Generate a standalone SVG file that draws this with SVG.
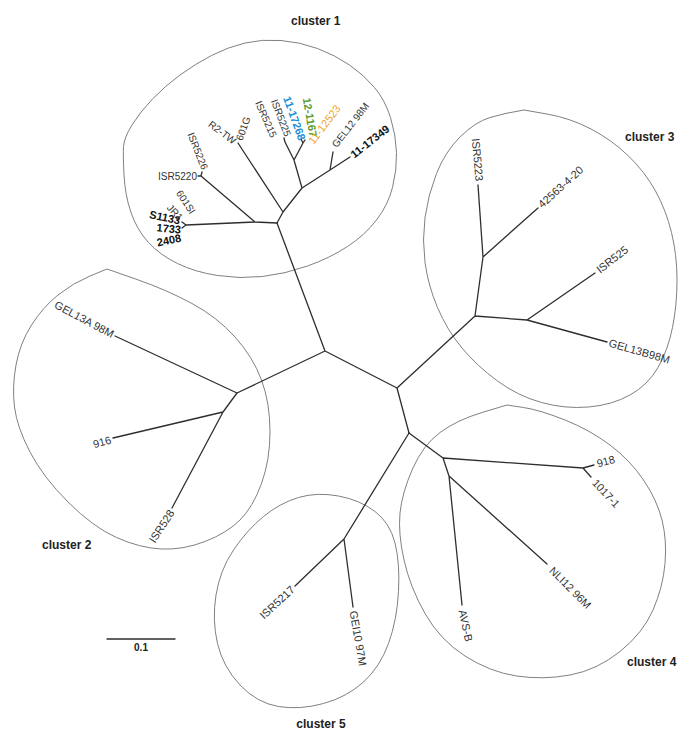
<svg xmlns="http://www.w3.org/2000/svg" width="679" height="732" viewBox="0 0 679 732">
<style>
.hull{fill:none;stroke:#808080;stroke-width:1}
.br{fill:none;stroke:#2e2e2e;stroke-width:1.3;stroke-linecap:round;stroke-linejoin:round}
text{font-family:"Liberation Sans",Arial,sans-serif;fill:#333}
.lf{font-size:11px}
.ls{font-size:10px}
.bd{font-size:11px;font-weight:bold;fill:#111}
.cl{font-size:12px;font-weight:bold;fill:#222}
</style>
<rect width="679" height="732" fill="#fff"/>
<g id="hulls">
<path class="hull" d="M124,175 Q123,155 123.5,146.5 Q124,138 132,125 Q140,112 152.5,99 Q165,86 180,75 Q195,64 211.5,55.5 Q228,47 245,43 Q262,39 281,40.5 Q300,42 317.5,48.5 Q335,55 349.5,65 Q364,75 374.5,87.5 Q385,100 390.5,117.5 Q396,135 396.5,152.5 Q397,170 392.5,187.5 Q388,205 376.5,220 Q365,235 347.5,246.5 Q330,258 307.5,266 Q285,274 262.5,276.5 Q240,279 217.5,275.5 Q195,272 177.5,263.5 Q160,255 148.5,242.5 Q137,230 131,212.5 Q125,195 124,175 Z"/>
<path class="hull" d="M107,269 L137,279.5 Q167,290 192,303.5 Q217,317 235,337 Q253,357 261.5,380 Q270,403 270,431.5 Q270,460 261.5,483.5 Q253,507 240,520 Q227,533 205,541.5 Q183,550 161.5,549 Q140,548 116.5,537.5 Q93,527 68,502 Q43,477 30,452 Q17,427 14.5,407 Q12,387 16,365 Q20,343 31.5,325 Q43,307 58,295 Q73,283 90,276 L107,269 Z"/>
<path class="hull" d="M524,110 L547,114 Q570,118 591,129 Q612,140 628.5,156 Q645,172 655.5,191 Q666,210 671.5,232.5 Q677,255 677,280 Q677,305 672.5,327.5 Q668,350 658,367.5 Q648,385 630,395 Q612,405 588.5,407 Q565,409 541.5,402.5 Q518,396 497.5,381 Q477,366 462,348 Q447,330 437.5,307.5 Q428,285 425,262.5 Q422,240 425,217.5 Q428,195 436.5,173.5 Q445,152 460,137 Q475,122 490,117.5 Q505,113 524,110 Z"/>
<path class="hull" d="M298.5,497.5 Q317,492 338.5,496 Q360,500 375,511.5 Q390,523 395,543 Q400,563 398.5,591.5 Q397,620 388.5,643.5 Q380,667 363.5,682 Q347,697 323.5,703.5 Q300,710 278.5,706.5 Q257,703 240,685 Q223,667 217.5,643.5 Q212,620 216,595 Q220,570 233.5,550 Q247,530 263.5,516.5 Q280,503 298.5,497.5 Z"/>
<path class="hull" d="M507,405 L523.5,407.5 Q540,410 565,420 Q590,430 610,445 Q630,460 643.5,480 Q657,500 662,520 Q667,540 665,563.5 Q663,587 653,610 Q643,633 620,651.5 Q597,670 570,675 Q543,680 516.5,676 Q490,672 465,656 Q440,640 425,613.5 Q410,587 404,560 Q398,533 400,513 Q402,493 412.5,469 Q423,445 440,432.5 Q457,420 482,412.5 L507,405 Z"/>
</g>
<g id="connectors">
<path class="br" d="M325,351 L397,388 L409,433 M325,351 L277,223 M325,351 L237,393"/>
<path class="br" d="M277,223 L255,222 L186,225 M182,222 L186,225 L182,228 M255,222 L201,176 M198,176 L201,176 L202,172"/>
<path class="br" d="M277,223 L283,212 L238,143 M283,212 L302,188 L294,160 L285,142 M284,138 L285,142 M294,160 L303,143 M301,139 L303,143 L305,140 M302,188 L330,170 L333,152 M330,170 L350,157"/>
<path class="br" d="M397,388 L475,316 L483,257 L478,185 M483,257 L538,208 M475,316 L527,320 L595,273 M527,320 L607,342"/>
<path class="br" d="M237,393 L115,336 M237,393 L223,412 L113,438 M223,412 L172,508"/>
<path class="br" d="M409,433 L344,539 L295,586 M344,539 L353,607"/>
<path class="br" d="M409,433 L443,458 L583,468 L594,465 M583,468 L591,477 M443,458 L449,476 L462,605 M449,476 L547,564"/>
<path class="br" d="M107,639 L175,639"/>
</g>
<g id="cluster1">
<text class="cl" x="291" y="25">cluster 1</text>
<text class="ls" text-anchor="end" x="197" y="179.5">ISR5220</text>
<text class="ls" text-anchor="end" transform="translate(205,169) rotate(68)" dy="3.5">ISR5226</text>
<text class="ls" text-anchor="end" transform="translate(235,142) rotate(37)" dy="3.5">R2-TW</text>
<text class="ls" transform="translate(239,140) rotate(-70)" dy="3.5">601G</text>
<text class="ls" text-anchor="end" transform="translate(274,137) rotate(66)" dy="3.5">ISR5215</text>
<text class="ls" text-anchor="end" transform="translate(288,136) rotate(69)" dy="3.5">ISR5225</text>
<text class="bd" text-anchor="end" transform="translate(302,140) rotate(70)" dy="3.5" style="fill:#1e8ed6">11-17268</text>
<text class="bd" text-anchor="end" transform="translate(313,137) rotate(80)" dy="3.5" style="fill:#5c9b30">12-1167</text>
<text class="lf" transform="translate(311,143) rotate(-53)" dy="3.5" style="fill:#f4a21d">11-12523</text>
<text class="ls" transform="translate(334,146) rotate(-52)" dy="3.5">GEL12 98M</text>
<text class="bd" transform="translate(352,156) rotate(-38)" dy="3.5">11-17349</text>
<text class="ls" text-anchor="end" transform="translate(193,213) rotate(57)" dy="3.5">601SI</text>
<text class="ls" text-anchor="end" transform="translate(181,219) rotate(47)" dy="3.5">JR1</text>
<text class="bd" text-anchor="end" transform="translate(180,221) rotate(12)" dy="3.5">S1133</text>
<text class="bd" text-anchor="end" transform="translate(181,230) rotate(5)" dy="3.5">1733</text>
<text class="bd" text-anchor="end" transform="translate(181,238) rotate(-12)" dy="3.5">2408</text>
</g>
<g id="cluster3">
<text class="cl" x="625" y="141">cluster 3</text>
<text class="lf" text-anchor="end" transform="translate(479,181) rotate(85)" dy="3.5">ISR5223</text>
<text class="lf" transform="translate(540,206) rotate(-42)" dy="3.5">42563-4-20</text>
<text class="lf" transform="translate(598,271) rotate(-38)" dy="3.5">ISR525</text>
<text class="lf" transform="translate(609,343) rotate(16)" dy="3.5">GEL13B98M</text>
</g>
<g id="cluster2">
<text class="cl" x="42" y="549">cluster 2</text>
<text class="lf" text-anchor="end" transform="translate(113,335) rotate(28)" dy="3.5">GEL13A 98M</text>
<text class="lf" text-anchor="end" transform="translate(111,440) rotate(-15)" dy="3.5">916</text>
<text class="lf" text-anchor="end" transform="translate(172,511) rotate(-57)" dy="3.5">ISR528</text>
</g>
<g id="cluster5">
<text class="cl" x="321" y="728" text-anchor="middle">cluster 5</text>
<text class="lf" text-anchor="end" transform="translate(293,588) rotate(-43)" dy="3.5">ISR5217</text>
<text class="lf" transform="translate(353,611) rotate(80)" dy="3.5">GEI10 97M</text>
</g>
<g id="cluster4">
<text class="cl" x="627" y="666">cluster 4</text>
<text class="lf" transform="translate(597,464) rotate(-15)" dy="3.5">918</text>
<text class="lf" transform="translate(594,481) rotate(47)" dy="3.5">1017-1</text>
<text class="lf" transform="translate(551,569) rotate(45)" dy="3.5">NLI12 96M</text>
<text class="lf" transform="translate(462,610) rotate(78)" dy="3.5">AVS-B</text>
</g>
<g id="scale">
<text x="141" y="651" text-anchor="middle" style="font-size:10px;font-weight:bold;fill:#222">0.1</text>
</g>
</svg>
